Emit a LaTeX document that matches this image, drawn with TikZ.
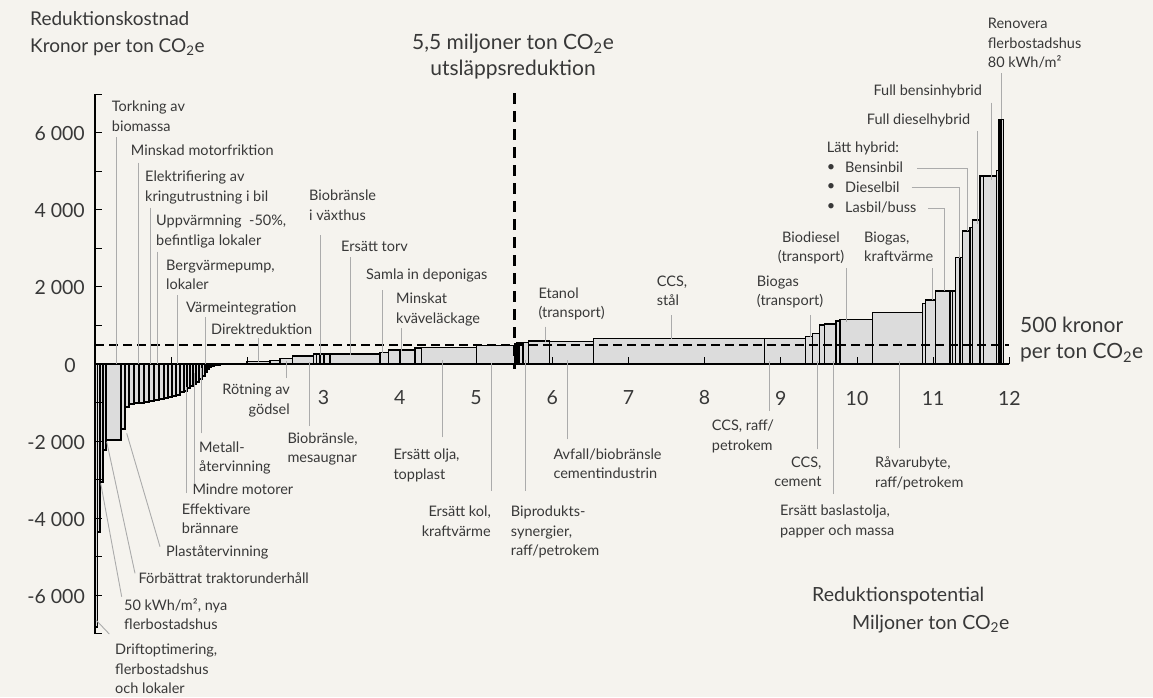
\documentclass[tikz,border=0pt]{standalone}
\usepackage{fontspec}
\setmainfont{Lato}
\definecolor{bg}{HTML}{F5F3EE}
\definecolor{barfill}{HTML}{DCDCDC}
\definecolor{leadc}{HTML}{ABABAB}
\definecolor{txt}{HTML}{383838}
\tikzset{
  lbl/.style={font=\fontsize{14.5}{19.5}\selectfont, text=txt, inner sep=0pt, align=left},
  lblc/.style={lbl, align=center},
  big/.style={font=\fontsize{19}{27}\selectfont, text=txt, inner sep=0pt, align=left},
  bigger/.style={font=\fontsize{21}{26}\selectfont, text=txt, inner sep=0pt, align=left},
  num/.style={font=\fontsize{19.5}{24}\selectfont, text=txt, inner sep=0pt},
  barbox/.style={fill=barfill, draw=black, line width=1.15pt},
  lead/.style={draw=leadc, line width=0.9pt},
  axisline/.style={draw=black, line width=1.5pt},
  tickline/.style={draw=black, line width=1pt},
  limitline/.style={draw=black, line width=2.2pt, dash pattern=on 9pt off 5pt},
  splitline/.style={draw=black, line width=3pt, dash pattern=on 11pt off 7pt}
}
\begin{document}
\begin{tikzpicture}[x=1pt,y=-1pt]
\fill[bg] (0,0) rectangle (1153,697);
\useasboundingbox (0,0) rectangle (1153,697);

% bars
\foreach \a/\b/\h in {95/97.5/627, 97.5/100/532, 100/103/482, 103/106/450, 106/121/440, 121/125/429, 125/129/407, 129/134/404, 134/139/403, 139/144/403, 144/149/402, 149/154/401, 154/159/400, 159/164/399, 164/168/398, 168/172/397, 172/176/396, 176/180/395, 180/184/392, 184/187/391, 187/190/388, 190/193/386, 193/196/384, 196/199/382, 199/202/379, 202/205/376, 205/207/372, 207/209/369, 209/211/367, 211/214/366, 214/220/365,
247/270/361.5, 270/280/360.5, 280/292.7/358.3, 292.7/313.3/356, 313.3/316.7/354, 316.7/320/354, 320/324/354, 324/330/354, 330/380/354, 380/388.3/352.7, 388.3/400/350, 400/415/350, 415/421.7/348, 421.7/476.7/347.3, 476.7/515/345.7, 515/517/343.5, 517/519/343, 519/523/343, 523/528.3/342.7, 528.3/549.3/341, 549.3/593.3/341.5, 593.3/764.3/338.3, 764.3/805.7/338.3, 805.7/812.3/336.5, 812.3/819.3/333.5, 819.3/824.3/325, 824.3/836/324, 836/840/321, 840/872.5/319.3, 872.5/922.3/312.3, 922.3/925.7/303.3, 925.7/935.7/300, 935.7/950/291, 950/952.7/291, 952.7/955.7/291, 955.7/960/257.7, 960/962.3/257.7, 962.3/970/231, 970/972.3/227.3, 972.3/980/220, 980/983.3/176, 983.3/996.7/176, 996.7/999/170.7, 999/1001/119.3, 1001/1003.3/119.3}
  \draw[barbox] (\a,364) rectangle (\b,\h);

% x ticks
\foreach \n in {1,...,12} \draw[tickline] ({95+76.2*\n},364) -- ({95+76.2*\n},357);
% y axis ticks
\foreach \v in {-7,...,7} \draw[tickline] (95,{364-38.53*\v}) -- (102,{364-38.53*\v});

% limit lines
\coordinate (limL) at (95,344.7);
\coordinate (limR) at (1009,344.7);
\draw[limitline] (limL) -- (limR);
\coordinate (splitT) at (514,93);
\coordinate (splitB) at (514,369);
\draw[splitline] (splitT) -- (splitB);

% axes
\coordinate (o) at (95,364);
\coordinate (xe) at (1009,364);
\coordinate (yt) at (95,94);
\coordinate (yb) at (95,634);
\draw[axisline] (o) -- (xe);
\draw[axisline] (yt) -- (yb);

% y labels
\foreach \v/\t in {6/6 000, 4/4 000, 2/2 000, -2/-2 000, -4/-4 000, -6/-6 000}
  \node[num, anchor=east] at (85,{364-38.53*\v+1}) {\t};
\node[num] (y0) at (70,365) {0};
% x labels
\foreach \n in {3,...,12}
  \node[num] at ({95+76.2*\n},398) {\n};

% titles
\node[big, anchor=north west] (t1) at (30,11) {Reduktionskostnad\\Kronor per ton CO\textsubscript{2}e};
\node[bigger, align=center, anchor=north] (t2) at (513,34) {5,5 miljoner ton CO\textsubscript{2}e\\utsläppsreduktion};
\node[bigger, anchor=north west] (t3) at (1020,317) {500 kronor\\per ton CO\textsubscript{2}e};
\node[big, font=\fontsize{19.5}{27}\selectfont, anchor=north west] (t4) at (812,587) {Reduktionspotential};
\node[big, font=\fontsize{19.5}{27}\selectfont, anchor=north west] (t5) at (852,615) {Miljoner ton CO\textsubscript{2}e};

% top labels
\node[lbl, anchor=north west] (l1) at (111.7,100.7) {Torkning av\\biomassa};
\node[lbl, anchor=north west] (l2) at (130.7,144.7) {Minskad motorfriktion};
\node[lbl, anchor=north west] (l3) at (145,170.7) {Elektrifiering av\\kringutrustning i bil};
\node[lbl, anchor=north west] (l4) at (156,215) {Uppvärmning~~-50\%,\\befintliga lokaler};
\node[lbl, anchor=north west] (l5) at (166,259.7) {Bergvärmepump,\\lokaler};
\node[lbl, anchor=north west] (l6) at (186,301.3) {Värmeintegration};
\node[lbl, anchor=north west] (l7) at (211,323.3) {Direktreduktion};
\node[lbl, anchor=north west] (l8) at (309,190) {Biobränsle\\i växthus};
\node[lbl, anchor=north west] (l9) at (341,240.7) {Ersätt torv};
\node[lbl, anchor=north west] (l10) at (366,268.3) {Samla in deponigas};
\node[lbl, anchor=north west] (l11) at (396,293) {Minskat\\kväveläckage};
\node[lbl, anchor=north west] (l12) at (538.3,287.3) {Etanol\\(transport)};
\node[lbl, anchor=north west] (l13) at (656.7,275.7) {CCS,\\stål};
\node[lbl, anchor=north west] (l14) at (756.7,275.7) {Biogas\\(transport)};
\node[lblc, anchor=north] (l15) at (811,231.3) {Biodiesel\\(transport)};
\node[lbl, anchor=north west] (l16) at (864,231.3) {Biogas,\\kraftvärme};
\node[lbl, anchor=north west] (l17) at (826.7,141.7) {Lätt hybrid:};
\node[lbl, anchor=north west] (l18) at (845,161.7) {Bensinbil};
\node[lbl, anchor=north west] (l19) at (845,181.3) {Dieselbil};
\node[lbl, anchor=north west] (l20) at (845,201.3) {Lasbil/buss};
\foreach \yy in {167.7,187.3,207.3} \node[lbl] at (831,\yy) {•};
\node[lbl, anchor=north west] (l21) at (866.7,113.3) {Full dieselhybrid};
\node[lbl, anchor=north west] (l22) at (873.3,84.7) {Full bensinhybrid};
\node[lbl, anchor=north west] (l23) at (987.7,18) {Renovera\\flerbostadshus\\80 kWh/m²};

% bottom labels
\node[lbl, align=right, anchor=north east] (b1) at (290,384) {Rötning av\\gödsel};
\node[lbl, anchor=north west] (b2) at (287.3,432.3) {Biobränsle,\\mesaugnar};
\node[lbl, anchor=north west] (b3) at (393.3,449) {Ersätt olja,\\topplast};
\node[lbl, align=right, anchor=north east] (b4) at (491,505.7) {Ersätt kol,\\kraftvärme};
\node[lbl, anchor=north west] (b5) at (510.7,505.7) {Biprodukts-\\synergier,\\raff/petrokem};
\node[lbl, anchor=north west] (b6) at (553.3,448.3) {Avfall/biobränsle\\cementindustrin};
\node[lbl, anchor=north west] (b7) at (711.7,420) {CCS, raff/\\petrokem};
\node[lbl, align=right, anchor=north east] (b8) at (821.7,456.7) {CCS,\\cement};
\node[lbl, anchor=north west] (b9) at (780,505) {Ersätt baslastolja,\\papper och massa};
\node[lbl, anchor=north west] (b10) at (875,456.7) {Råvarubyte,\\raff/petrokem};
\node[lbl, anchor=north west] (b11) at (199,441.3) {Metall-\\återvinning};
\node[lbl, anchor=north west] (b12) at (192.3,484) {Mindre motorer};
\node[lbl, anchor=north west] (b13) at (181.7,503.3) {Effektivare\\brännare};
\node[lbl, anchor=north west] (b14) at (166,545.7) {Plaståtervinning};
\node[lbl, anchor=north west] (b15) at (138.3,572.3) {Förbättrat traktorunderhåll};
\node[lbl, anchor=north west] (b16) at (124,598) {50 kWh/m², nya\\flerbostadshus};
\node[lbl, anchor=north west] (b17) at (115,644) {Driftoptimering,\\flerbostadshus\\och lokaler};

% leaders (top)
\draw[lead] (116,137) -- (116,364);
\draw[lead] (138.3,162.7) -- (138.3,364);
\draw[lead] (150,207.7) -- (150,364);
\draw[lead] (157.7,251.7) -- (157.7,364);
\draw[lead] (177.7,295) -- (177.7,364);
\draw[lead] (205,317.3) -- (205,364);
\draw[lead] (258.3,338.3) -- (258.3,361.5);
\draw[lead] (320,235) -- (320,355);
\draw[lead] (350.7,257.3) -- (350.7,355);
\draw[lead] (382.7,290) -- (382.7,353);
\draw[lead] (401.7,328.3) -- (401.7,351);
\draw[lead] (545,326.7) -- (545,342);
\draw[lead] (671.7,315) -- (671.7,339);
\draw[lead] (810,315) -- (810,337);
\draw[lead] (846,268.3) -- (846,322);
\draw[lead] (932.3,268.3) -- (932.3,300);
\draw[lead] (928,208) -- (944,208) -- (944,291);
\draw[lead] (911.7,187.3) -- (959.3,187.3) -- (959.3,257.7);
\draw[lead] (917.3,168.3) -- (967.7,168.3) -- (967.7,231);
\draw[lead] (977.3,131) -- (977.3,224.3);
\draw[lead] (991.7,102.7) -- (991.7,180);
\draw[lead] (1001.7,73.3) -- (1001.7,119.3);
% leaders (bottom)
\draw[lead] (286.7,378) -- (286.7,361);
\draw[lead] (309.3,426) -- (309.3,361.7);
\draw[lead] (442.3,437.3) -- (442.3,360);
\draw[lead] (491,490.7) -- (491,363);
\draw[lead] (525,490.7) -- (525,360);
\draw[lead] (567.7,439.3) -- (567.7,360);
\draw[lead] (769,410.7) -- (769,360.7);
\draw[lead] (817.3,449.3) -- (817.3,360.7);
\draw[lead] (833.3,494) -- (833.3,360.7);
\draw[lead] (899.3,448.3) -- (899.3,360.7);
\draw[lead] (201.7,433.3) -- (201.7,368);
\draw[lead] (194.3,483.3) -- (194.3,373);
\draw[lead] (186,493) -- (186,386.7);
\draw[lead] (160,546.7) -- (126.7,433.3);
\draw[lead] (135,573.3) -- (106.7,441.7);
\draw[lead] (121.7,596.7) -- (100.7,483.3);
\draw[lead] (109.3,634) -- (96,620);
\end{tikzpicture}
\end{document}
